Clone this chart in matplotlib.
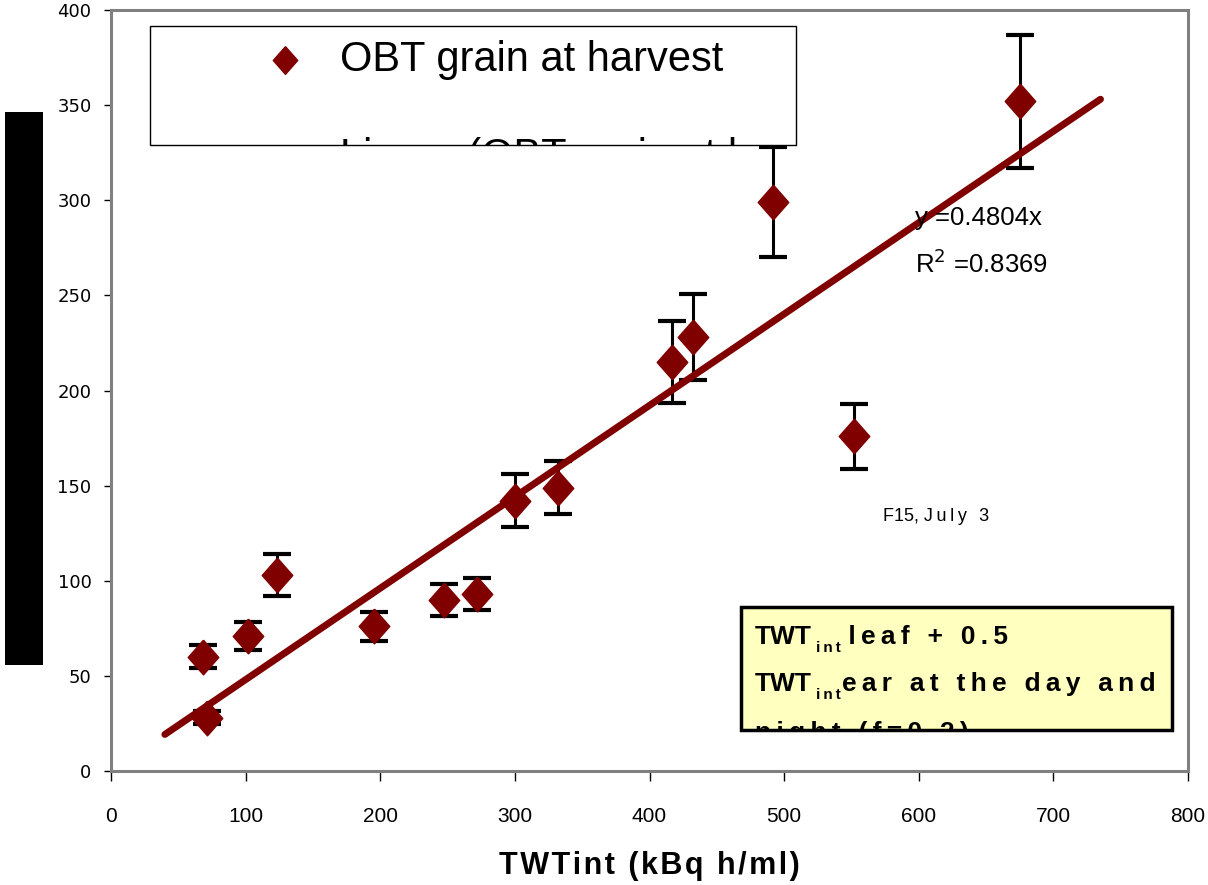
import matplotlib.pyplot as plt
import matplotlib.patches as patches

# OBT in grain at harvest against time-integrated TWT
twt = [68, 71, 102, 123, 195, 247, 272, 300, 332, 417, 432, 492, 552, 675]
obt = [60, 28, 71, 103, 76, 90, 93, 142, 149, 215, 228, 299, 176, 352]
obt_err = [6, 3.5, 7.5, 11, 7.5, 8.5, 8.5, 14, 14, 21.5, 22.7, 29, 17, 35]

slope = 0.4804
r2 = 0.8369
fit_x = [40, 735]

xticks = list(range(0, 801, 100))
yticks = list(range(0, 401, 50))

DARKRED = '#800000'
NARROW = ['Liberation Sans Narrow', 'Liberation Sans', 'DejaVu Sans']
SANS = ['Liberation Sans', 'DejaVu Sans']
THIN = '\u2009'
HAIR = '\u200a'


def spaced(s, sep=THIN):
    return sep.join(s)


# slightly tall diamond
diamond = [(0, 1), (0.88, 0), (0, -1), (-0.88, 0), (0, 1)]

fig = plt.figure(figsize=(12.08, 8.85), dpi=100)
ax = fig.add_axes([111 / 1208, 1 - 771 / 885, 1077 / 1208, 761 / 885])

ax.errorbar(twt, obt, yerr=obt_err, fmt='none', ecolor='black',
            elinewidth=2.2, capsize=10, capthick=3, zorder=3)
ax.plot(twt, obt, linestyle='none', marker=diamond, ms=25,
        color=DARKRED, zorder=4)
ax.plot(fit_x, [slope * x for x in fit_x], color=DARKRED, lw=5,
        solid_capstyle='round', zorder=5)

ax.set_xlim(0, 800)
ax.set_ylim(0, 400)
ax.set_xticks(xticks)
ax.set_yticks(yticks)
for lab in ax.get_xticklabels():
    lab.set_family(NARROW)
    lab.set_fontsize(15)
for lab in ax.get_yticklabels():
    lab.set_family('DejaVu Sans')
    lab.set_fontsize(13)
ax.tick_params(axis='x', direction='out', length=7, width=1, pad=19)
ax.tick_params(axis='y', direction='out', length=5, width=1, pad=9)
for sp in ax.spines.values():
    sp.set_color('#808080')
    sp.set_linewidth(2.2)

ax.set_xlabel(spaced('TWTint (kBq h/ml)', HAIR), family=NARROW,
              fontweight='bold', fontsize=22, labelpad=18)

# legend box, second entry cut off by its lower edge
leg_box = patches.Rectangle((29, 329), 480, 62.6, facecolor='white',
                            edgecolor='black', lw=1, zorder=6)
ax.add_patch(leg_box)
ax.plot([129], [373.7], marker=diamond, ms=20, color=DARKRED, zorder=7)
ax.text(170, 367.7, 'OBT grain at harvest', family=NARROW, fontsize=30,
        va='baseline', zorder=7)
t = ax.text(170, 317, 'Linear (OBT grain at harvest)', family=NARROW,
            fontsize=30, va='baseline', zorder=7, clip_on=True)
t.set_clip_path(leg_box)

# trendline equation
ax.text(597, 287, 'y =%.4fx' % slope, family=SANS, fontsize=18.5,
        va='baseline', zorder=7)
ax.text(597, 261.8, 'R$^{2}$ =%.4f' % r2, family=SANS, fontsize=18.5,
        va='baseline', zorder=7)

ax.text(573.5, 131.4, 'F15, ' + spaced('July 3'), family=NARROW, fontsize=13,
        va='baseline', zorder=7)

# note box
note_box = patches.Rectangle((468, 21.5), 320, 64.7, facecolor='#ffffc0',
                             edgecolor='black', lw=2.5, zorder=6)
ax.add_patch(note_box)


def note_line(parts, x, y):
    first = None
    prev = None
    for txt, size, dy, gap in parts:
        if prev is None:
            tt = ax.text(x, y, txt, family=SANS, fontsize=size,
                         fontweight='bold', va='bottom', zorder=7)
            first = tt
        else:
            tt = ax.annotate(txt, xy=(1, 0), xycoords=(prev, first),
                             xytext=(gap, dy), textcoords='offset points',
                             family=SANS, fontsize=size, fontweight='bold',
                             va='bottom', zorder=7)
        prev = tt
    return first


note_line([('TWT', 19, 0, 0), (spaced('int'), 11, -4, 3),
           (' ' + spaced('leaf + 0.5'), 19, 0, 0)], 478.5, 64)
note_line([('TWT', 19, 0, 0), (spaced('int'), 11, -4, 3),
           (spaced('ear at the day and'), 19, 0, 1)], 478.5, 39.3)
t3 = ax.text(478.5, 16.3, spaced('night (f=0.2)'), family=SANS, fontsize=19,
             fontweight='bold', va='baseline', zorder=7, clip_on=True)
t3.set_clip_path(note_box)

# blacked-out axis title
fig.patches.append(patches.Rectangle((5 / 1208, 1 - 665 / 885), 38 / 1208,
                                     553 / 885, transform=fig.transFigure,
                                     facecolor='black', edgecolor='none'))

fig.savefig('out.png', dpi=100)
